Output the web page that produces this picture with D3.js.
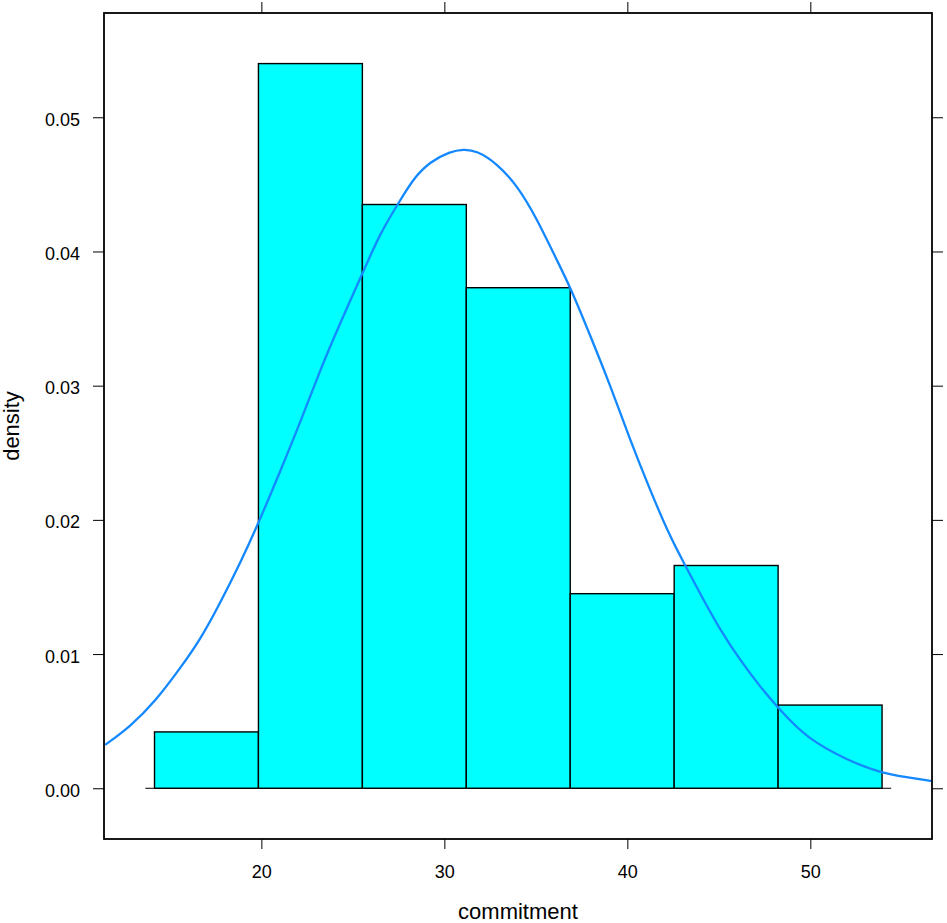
<!DOCTYPE html>
<html>
<head>
<meta charset="utf-8">
<script src="https://cdn.jsdelivr.net/npm/d3@7"></script>
<style>
  body { margin: 0; background: #fff; }
  svg { display: block; font-family: "Liberation Sans", Arial, sans-serif; }
</style>
</head>
<body>
<div id="chart"></div>
<script>
// Histogram bin edges and heights (density)
const breaks = [14.16, 19.84, 25.52, 31.20, 36.88, 42.56, 48.24, 53.92];
const density = [0.0042, 0.0540, 0.0435, 0.0373, 0.0145, 0.0166, 0.0062];

// Fitted density curve
const curveX = [11.46, 12.83, 14.19, 15.56, 16.65, 17.74, 18.84, 19.84, 21.02, 22.11,
  23.21, 24.30, 25.57, 26.49, 27.49, 28.31, 29.22, 30.31, 31.04, 31.77,
  32.86, 33.96, 35.05, 36.14, 36.87, 37.96, 39.06, 40.15, 41.24, 42.33,
  43.15, 43.97, 45.07, 46.16, 47.25, 48.34, 49.80, 51.99, 53.81, 55.27, 56.63];
const curveY = [0.00323, 0.00459, 0.00645, 0.00894, 0.01105, 0.01379, 0.01677, 0.01975, 0.02359, 0.02720,
  0.03117, 0.03465, 0.03850, 0.04136, 0.04359, 0.04545, 0.04669, 0.04744, 0.04762, 0.04751,
  0.04657, 0.04496, 0.04247, 0.03937, 0.03738, 0.03378, 0.03005, 0.02595, 0.02223, 0.01875,
  0.01664, 0.01453, 0.01180, 0.00956, 0.00757, 0.00583, 0.00373, 0.00211, 0.00116, 0.00082, 0.00054];

const xTicks = [20, 30, 40, 50];
const yTicks = [0, 0.01, 0.02, 0.03, 0.04, 0.05];

const W = 947, H = 923;
const panel = { left: 104, right: 932, top: 13, bottom: 839 };

const x = d3.scaleLinear().domain([11.40, 56.65]).range([panel.left, panel.right]);
const y = d3.scaleLinear().domain([-0.00378, 0.05777]).range([panel.bottom, panel.top]);

const svg = d3.select("#chart").append("svg")
  .attr("width", W)
  .attr("height", H);

svg.append("clipPath").attr("id", "clip")
  .append("rect")
  .attr("x", panel.left).attr("y", panel.top)
  .attr("width", panel.right - panel.left)
  .attr("height", panel.bottom - panel.top);

const bins = density.map((d, i) => ({ x0: breaks[i], x1: breaks[i + 1], d }));

// baseline at zero, a little wider than the bins
svg.append("line")
  .attr("x1", x(breaks[0] - 0.5))
  .attr("x2", x(breaks[breaks.length - 1] + 0.5))
  .attr("y1", y(0)).attr("y2", y(0))
  .attr("stroke", "#000")
  .attr("stroke-width", 1);

// bars
svg.append("g").selectAll("rect")
  .data(bins)
  .join("rect")
  .attr("x", d => x(d.x0))
  .attr("y", d => y(d.d))
  .attr("width", d => x(d.x1) - x(d.x0))
  .attr("height", d => y(0) - y(d.d))
  .attr("fill", "#00ffff")
  .attr("stroke", "#000")
  .attr("stroke-width", 1.4);

// density curve (basis smooths out reading noise)
const line = d3.line()
  .x(d => x(d[0]))
  .y(d => y(d[1]))
  .curve(d3.curveBasis);

svg.append("path")
  .datum(d3.zip(curveX, curveY))
  .attr("clip-path", "url(#clip)")
  .attr("d", line)
  .attr("fill", "none")
  .attr("stroke", "#1488ff")
  .attr("stroke-width", 2.3);

// axes: labels bottom and left, bare ticks top and right
const fmt = d3.format(".2f");

const gBottom = svg.append("g")
  .attr("transform", `translate(0,${panel.bottom})`)
  .call(d3.axisBottom(x).tickValues(xTicks).tickSize(10).tickPadding(16).tickSizeOuter(0));
const gTop = svg.append("g")
  .attr("transform", `translate(0,${panel.top})`)
  .call(d3.axisTop(x).tickValues(xTicks).tickSize(11).tickFormat("").tickSizeOuter(0));
const gLeft = svg.append("g")
  .attr("transform", `translate(${panel.left},0)`)
  .call(d3.axisLeft(y).tickValues(yTicks).tickSize(11).tickPadding(13).tickFormat(fmt).tickSizeOuter(0));
const gRight = svg.append("g")
  .attr("transform", `translate(${panel.right},0)`)
  .call(d3.axisRight(y).tickValues(yTicks).tickSize(11).tickFormat("").tickSizeOuter(0));

[gBottom, gTop, gLeft, gRight].forEach(g => {
  g.select(".domain").remove();
  g.selectAll("line").attr("stroke", "#000").attr("stroke-width", 1);
  g.selectAll("text")
    .attr("fill", "#000")
    .style("font-size", "18px")
    .style("font-family", "'Liberation Sans', Arial, sans-serif");
});
gLeft.selectAll("text").attr("dy", "0.45em");

// panel border
svg.append("rect")
  .attr("x", panel.left).attr("y", panel.top)
  .attr("width", panel.right - panel.left)
  .attr("height", panel.bottom - panel.top)
  .attr("fill", "none")
  .attr("stroke", "#000")
  .attr("stroke-width", 1.8);

// axis titles
svg.append("text")
  .attr("x", (panel.left + panel.right) / 2)
  .attr("y", 919)
  .attr("text-anchor", "middle")
  .style("font-size", "22px")
  .text("commitment");

svg.append("text")
  .attr("transform", `translate(19,${(panel.top + panel.bottom) / 2}) rotate(-90)`)
  .attr("text-anchor", "middle")
  .style("font-size", "22px")
  .text("density");
</script>
</body>
</html>
